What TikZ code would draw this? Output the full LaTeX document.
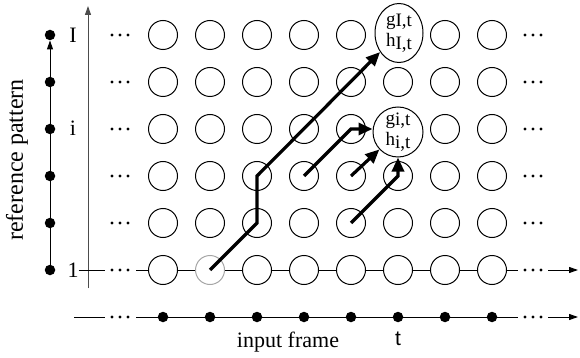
\documentclass[tikz,border=0pt]{standalone}
\usepackage{fontspec}
\setmainfont{Liberation Serif}
\newfontfamily\sansf{Liberation Sans}
\usetikzlibrary{arrows.meta,shapes.geometric}
\begin{document}
\begin{tikzpicture}[x=1pt,y=-1pt,
  cell/.style={circle,draw,line width=1pt,minimum size=29pt,inner sep=0pt},
  bigcell/.style={draw,line width=1pt,inner sep=0pt,align=center,font=\fontsize{19}{20.5}\selectfont},
  bdot/.style={circle,fill,inner sep=0pt,minimum size=10.5pt},
  thinline/.style={line width=1pt},
  thinarrow/.style={line width=1pt,-{Triangle[length=9pt,width=6pt]}},
  flow/.style={line width=3.2pt,-{Triangle[length=14pt,width=12pt]}},
  lbl/.style={inner sep=0pt,font=\fontsize{22}{22}\selectfont}
]
\useasboundingbox (0,0) rectangle (580,358);

% grid coordinates
\foreach \c in {1,...,8}{
  \foreach \r in {1,...,6}{
    \coordinate (p-\c-\r) at ({163+47*(\c-1)},{270-47*(\r-1)});
  }}

% circles
\foreach \c in {1,3,4,5,7,8}{\foreach \r in {1,...,6}{\node[cell] (n-\c-\r) at (p-\c-\r) {};}}
\foreach \r in {2,...,6}{\node[cell] (n-2-\r) at (p-2-\r) {};}
\node[cell,draw=black!35] (n-2-1) at (p-2-1) {};
\foreach \r in {1,2,3,5}{\node[cell] (n-6-\r) at (p-6-\r) {};}
\node[bigcell,ellipse,minimum width=48pt,minimum height=59pt] (bigI) at (399,33)
  {g\raisebox{-1pt}{I,t}\\h\raisebox{-3pt}{I,t}};
\node[bigcell,circle,minimum size=50pt] (bigi) at (398,132)
  {g\raisebox{-1pt}{i,t}\\h\raisebox{-3pt}{i,t}};

% row dots
\foreach \r in {1,...,6}{
  \foreach \dx in {-8,0,8}{
    \fill ({120+\dx},{270-47*(\r-1)}) circle[radius=1.7pt];
    \fill ({533+\dx},{270-47*(\r-1)}) circle[radius=1.7pt];
  }}
\foreach \dx in {-8,0,8}{
  \fill ({120+\dx},317) circle[radius=1.7pt];
  \fill ({533+\dx},317) circle[radius=1.7pt];
}

% vertical axis
\coordinate (axB) at (88,288);
\coordinate (axT) at (88,6);
\draw[thinarrow,draw=black!70,fill=black!70] (axB) -- (axT);

% labels on axis
\node[lbl] (lI) at (73,35) {I};
\node[lbl] (li) at (73,128) {i};
\node[lbl] (l1) at (73,270) {1};

% row 1 line
\coordinate (r1L) at (105,270);
\coordinate (r1M) at (136,270);
\coordinate (r1R) at (518,270);
\coordinate (r1A) at (548,270);
\coordinate (r1B) at (578,270);
\draw[thinline] (l1.east) -- (r1L);
\draw[thinline] (r1M) -- (n-1-1) -- (n-2-1) -- (n-3-1) -- (n-4-1) -- (n-5-1) -- (n-6-1) -- (n-7-1) -- (n-8-1) -- (r1R);
\draw[thinarrow] (r1A) -- (r1B);

% left reference column
\foreach \r in {1,...,6}{\node[bdot] (L-\r) at (50,{270-47*(\r-1)}) {};}
\draw[thinline] (L-1) -- (L-2) -- (L-3) -- (L-4) -- (L-5);
\draw[thinarrow] (L-5) -- (L-6);

% bottom input frame line
\foreach \c in {1,...,8}{\node[bdot] (b-\c) at ({163+47*(\c-1)},317) {};}
\coordinate (bL) at (74,317);
\coordinate (bM1) at (105,317);
\coordinate (bM2) at (136,317);
\coordinate (bR) at (518,317);
\coordinate (bA) at (548,317);
\coordinate (bB) at (578,317);
\draw[thinline] (bL) -- (bM1);
\draw[thinline] (bM2) -- (b-1) -- (b-2) -- (b-3) -- (b-4) -- (b-5) -- (b-6) -- (b-7) -- (b-8) -- (bR);
\draw[thinarrow] (bA) -- (bB);

% texts
\node[font=\fontsize{22}{22}\selectfont] (inf) at (288,342) {input frame};
\node[font=\sansf\fontsize{21}{21}\selectfont] (tl) at (398,339) {t};
\node[font=\fontsize{24}{24}\selectfont,rotate=90] (rp) at (17,160) {reference pattern};

% thick path arrows
\draw[flow] (n-2-1.center) -- (n-3-2.center) -- (n-3-3.center) -- (bigI);
\draw[flow] (n-4-3.center) -- (n-5-4.center) -- (n-5-4.center -| bigi.west);
\draw[flow] (n-5-3.center) -- (bigi);
\draw[flow] (n-5-2.center) -- (n-6-3.center) -- (bigi.south);
\end{tikzpicture}
\end{document}
